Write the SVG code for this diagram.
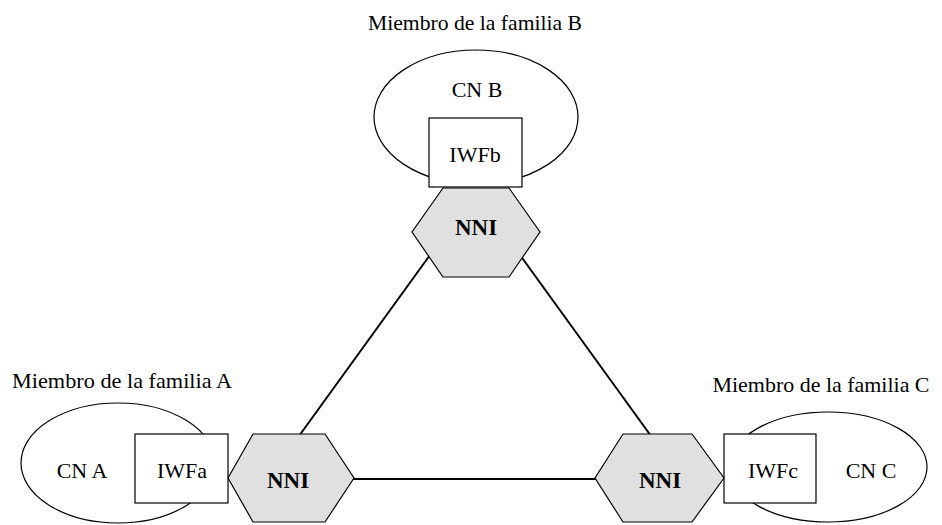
<svg xmlns="http://www.w3.org/2000/svg" width="942" height="525" viewBox="0 0 942 525">
  <style>
    .lbl { font-family: "Liberation Serif", "Times New Roman", serif; font-size: 22px; fill: #000; text-anchor: middle; }
    .nni { font-family: "Liberation Serif", "Times New Roman", serif; font-size: 23px; font-weight: bold; fill: #000; text-anchor: middle; }
    .cloud { fill: #fff; stroke: #000; stroke-width: 1.2; }
    .iwf { fill: #fff; stroke: #000; stroke-width: 1.2; }
    .hex { fill: #e0e0e0; stroke: #000; stroke-width: 1.2; }
    .link { stroke: #000; stroke-width: 2; fill: none; }
  </style>
  <rect width="942" height="525" fill="#fff"/>

  <!-- links between the three NNI interfaces -->
  <g id="connectors">
    <line class="link" x1="430" y1="255" x2="299" y2="436"/>
    <line class="link" x1="520" y1="255" x2="651" y2="436"/>
    <line class="link" x1="352" y1="479" x2="597" y2="479"/>
  </g>

  <!-- family B -->
  <g id="family-b">
    <text class="lbl" x="475" y="30" textLength="214" lengthAdjust="spacingAndGlyphs">Miembro de la familia B</text>
    <ellipse class="cloud" cx="476" cy="117" rx="102" ry="67"/>
    <text class="lbl" x="477" y="97">CN B</text>
    <rect class="iwf" x="429" y="118" width="93" height="69"/>
    <text class="lbl" x="475" y="162">IWFb</text>
  </g>
  <g id="nni-b">
    <polygon class="hex" points="443,188 509,188 540,232 509,277 443,277 412,232"/>
    <text class="nni" x="476" y="235">NNI</text>
  </g>

  <!-- family A -->
  <g id="family-a">
    <text class="lbl" x="122" y="388" textLength="220" lengthAdjust="spacingAndGlyphs">Miembro de la familia A</text>
    <ellipse class="cloud" cx="118" cy="463" rx="97" ry="60"/>
    <text class="lbl" x="82" y="478">CN A</text>
    <rect class="iwf" x="135" y="434" width="93" height="69"/>
    <text class="lbl" x="182" y="478">IWFa</text>
  </g>
  <g id="nni-a">
    <polygon class="hex" points="253,434 325,434 354,478 325,522 253,522 228,478"/>
    <text class="nni" x="288" y="488">NNI</text>
  </g>

  <!-- family C -->
  <g id="family-c">
    <text class="lbl" x="821" y="392" textLength="217" lengthAdjust="spacingAndGlyphs">Miembro de la familia C</text>
    <ellipse class="cloud" cx="828" cy="467" rx="99" ry="55"/>
    <text class="lbl" x="871" y="478">CN C</text>
    <rect class="iwf" x="724" y="434" width="92" height="69"/>
    <text class="lbl" x="773" y="478">IWFc</text>
  </g>
  <g id="nni-c">
    <polygon class="hex" points="623,434 692,434 724,478 692,522 623,522 595,478"/>
    <text class="nni" x="660" y="488">NNI</text>
  </g>
</svg>
